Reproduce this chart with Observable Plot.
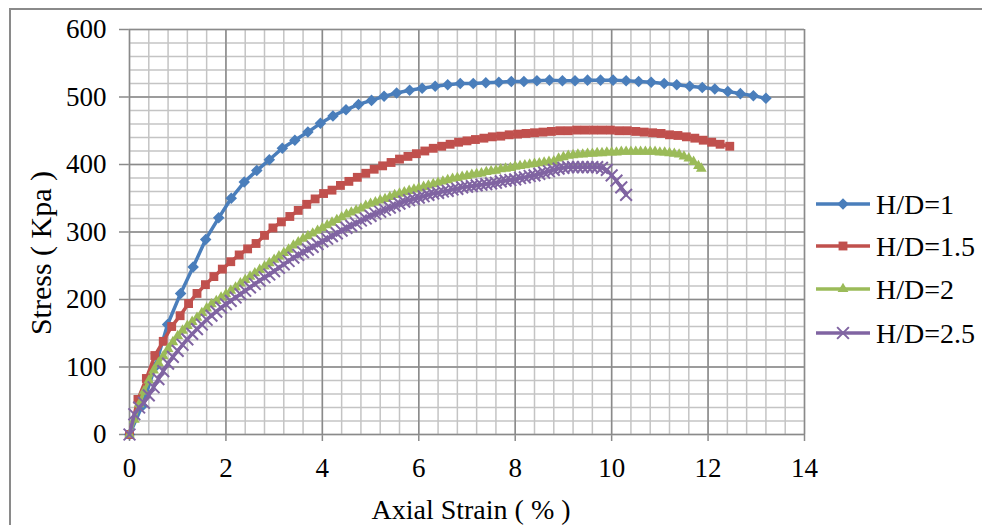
<!DOCTYPE html>
<html><head><meta charset="utf-8">
<script src="https://cdn.jsdelivr.net/npm/d3@7"></script>
<script src="https://cdn.jsdelivr.net/npm/@observablehq/plot@0.6"></script>
<style>
body{margin:0;background:#fff;}
#wrap{position:relative;width:982px;height:525px;overflow:hidden;background:#fff;font-family:"Liberation Serif","Times New Roman",serif;}
#border{position:absolute;left:9px;top:8px;width:2000px;height:2000px;border-left:2px solid #8a8a8a;border-top:2px solid #8a8a8a;}
#chart{position:absolute;left:0;top:0;}
#legend{position:absolute;left:0;top:0;}
</style></head><body>
<div id="wrap"><div id="border"></div><div id="chart"></div><svg id="legend" width="982" height="525"></svg></div>
<script>
const seriesNames = ["H/D=1", "H/D=1.5", "H/D=2", "H/D=2.5"];
const seriesColors = ["#4a7ebb", "#c0504d", "#9bbb59", "#8064a2"];
const xTicks = [0, 2, 4, 6, 8, 10, 12, 14];
const yTicks = [0, 100, 200, 300, 400, 500, 600];
const xTitle = "Axial Strain ( % )";
const yTitle = "Stress ( Kpa )";

const strainHD1 = [0,0.26,0.53,0.79,1.06,1.32,1.58,1.85,2.11,2.38,2.64,2.90,3.17,3.43,3.70,3.96,4.22,4.49,4.75,5.02,5.28,5.54,5.81,6.07,6.34,6.60,6.86,7.13,7.39,7.66,7.92,8.18,8.45,8.71,8.98,9.24,9.50,9.77,10.03,10.30,10.56,10.82,11.09,11.35,11.62,11.88,12.14,12.41,12.67,12.94,13.20];
const stressHD1 = [0,42,100,163,209,248,289,321,350,374,391,407,424,436,448,461,472,481,489,495,501,506,510,513,516,518,520,520,521,522,523,523,524,525,524,524,525,525,525,524,523,522,520,518,516,514,512,508,505,502,498];

const strainHD15 = [0,0.175,0.35,0.525,0.70,0.875,1.05,1.225,1.40,1.575,1.75,1.925,2.10,2.275,2.45,2.625,2.80,2.975,3.15,3.325,3.50,3.675,3.85,4.025,4.20,4.375,4.55,4.725,4.90,5.075,5.25,5.425,5.60,5.775,5.95,6.125,6.30,6.475,6.65,6.825,7.0,7.175,7.35,7.525,7.70,7.875,8.05,8.225,8.40,8.575,8.75,8.925,9.10,9.275,9.45,9.625,9.80,9.975,10.15,10.325,10.50,10.675,10.85,11.025,11.20,11.375,11.55,11.725,11.90,12.075,12.25,12.45];
const stressHD15 = [0,52,83,117,138,160,176,194,209,222,234,245,256,266,275,283,295,306,315,323,332,341,349,357,362,369,375,381,387,393,398,403,408,412,416,420,424,427,430,433,435,437,439,441,442,444,445,446,447,448,449,450,450,451,451,451,451,451,450,450,449,448,447,446,444,443,441,439,436,433,430,427];

const strainHD2 = [0,0.1,0.2,0.3,0.4,0.5,0.6,0.7,0.8,0.9,1.0,1.1,1.2,1.3,1.4,1.5,1.6,1.7,1.8,1.9,2.0,2.1,2.2,2.3,2.4,2.5,2.6,2.7,2.8,2.9,3.0,3.1,3.2,3.3,3.4,3.5,3.6,3.7,3.8,3.9,4.0,4.1,4.2,4.3,4.4,4.5,4.6,4.7,4.8,4.9,5.0,5.1,5.2,5.3,5.4,5.5,5.6,5.7,5.8,5.9,6.0,6.1,6.2,6.3,6.4,6.5,6.6,6.7,6.8,6.9,7.0,7.1,7.2,7.3,7.4,7.5,7.6,7.7,7.8,7.9,8.0,8.1,8.2,8.3,8.4,8.5,8.6,8.7,8.8,8.9,9.0,9.1,9.2,9.3,9.4,9.5,9.6,9.7,9.8,9.9,10.0,10.1,10.2,10.3,10.4,10.5,10.6,10.7,10.8,10.9,11.0,11.1,11.2,11.3,11.4,11.5,11.6,11.7,11.8,11.86];
const stressHD2 = [0,22,45,64,80,95,106,116,127,137,146,154,161,167,173,180,187,193,198,203,208,213,218,224,229,234,239,244,249,254,259,264,269,274,280,285,290,294,298,302,306,310,314,318,322,326,329,332,335,339,342,344,347,349,352,355,357,359,361,363,365,367,369,371,373,375,377,379,380,382,383,385,386,387,389,390,391,393,394,395,397,398,399,400,401,402,403,404,405,409,411,413,414,415,415,416,416,417,417,418,418,418,419,419,419,419,419,419,419,419,418,418,417,416,415,412,409,404,398,394];

const strainHD25 = [0,0.1,0.2,0.3,0.4,0.5,0.6,0.7,0.8,0.9,1.0,1.1,1.2,1.3,1.4,1.5,1.6,1.7,1.8,1.9,2.0,2.1,2.2,2.3,2.4,2.5,2.6,2.7,2.8,2.9,3.0,3.1,3.2,3.3,3.4,3.5,3.6,3.7,3.8,3.9,4.0,4.1,4.2,4.3,4.4,4.5,4.6,4.7,4.8,4.9,5.0,5.1,5.2,5.3,5.4,5.5,5.6,5.7,5.8,5.9,6.0,6.1,6.2,6.3,6.4,6.5,6.6,6.7,6.8,6.9,7.0,7.1,7.2,7.3,7.4,7.5,7.6,7.7,7.8,7.9,8.0,8.1,8.2,8.3,8.4,8.5,8.6,8.7,8.8,8.9,9.0,9.1,9.2,9.3,9.4,9.5,9.6,9.7,9.8,9.9,10.0,10.1,10.2,10.3];
const stressHD25 = [0,30,40,47,58,70,82,94,105,115,124,133,141,149,156,163,170,176,182,188,193,198,203,208,213,218,223,228,233,237,242,247,252,257,262,266,270,274,278,282,286,290,294,298,302,306,309,313,317,320,324,327,330,333,336,339,342,345,347,349,351,353,355,357,358,360,361,363,364,366,367,368,369,370,371,372,373,375,376,377,378,380,381,383,384,386,388,390,392,394,395,396,396,396,396,396,396,396,395,392,384,376,366,355];

const strains = [strainHD1, strainHD15, strainHD2, strainHD25];
const stresses = [stressHD1, stressHD15, stressHD2, stressHD25];
const symbols = ["diamond2", "square", "triangle", "times"];
const radii = [5.2, 5.0, 4.0, 5.4];

const xMinor = d3.range(0, 14.001, 0.4);
const yMinor = d3.range(0, 600.001, 20);

const seriesMarks = [];
seriesNames.forEach((name, k) => {
  const data = strains[k].map((x, i) => ({x, y: stresses[k][i]}));
  seriesMarks.push(Plot.line(data, {x: "x", y: "y", stroke: seriesColors[k], strokeWidth: 3.5}));
  if (symbols[k] === "times") {
    seriesMarks.push(Plot.dot(data, {x: "x", y: "y", symbol: symbols[k], r: radii[k], stroke: seriesColors[k], strokeWidth: 2, fill: "none"}));
  } else {
    seriesMarks.push(Plot.dot(data, {x: "x", y: "y", symbol: symbols[k], r: radii[k], fill: seriesColors[k], stroke: "none"}));
  }
});

const chart = Plot.plot({
  width: 982, height: 525,
  marginLeft: 129, marginRight: 178, marginTop: 29, marginBottom: 91,
  style: {fontFamily: "Liberation Serif, Times New Roman, serif", fontSize: "27px", color: "#000", background: "transparent"},
  x: {domain: [0, 14], ticks: xTicks, tickSize: 7, tickPadding: 16, tickFormat: d => String(d), label: null},
  y: {domain: [0, 600], ticks: yTicks, tickSize: 10, tickPadding: 13, tickFormat: d => String(d), label: null},
  marks: [
    Plot.ruleX(xMinor, {stroke: "#c4c4c4", strokeWidth: 1.5}),
    Plot.ruleY(yMinor, {stroke: "#c4c4c4", strokeWidth: 1.5}),
    Plot.ruleX(xTicks, {stroke: "#8a8a8a", strokeWidth: 1.5}),
    Plot.ruleY(yTicks, {stroke: "#8a8a8a", strokeWidth: 1.5}),
    ...seriesMarks
  ]
});
document.getElementById("chart").appendChild(chart);
const svg = d3.select(chart);
svg.selectAll('g[aria-label$="-axis tick"]').attr("stroke", "#8a8a8a").attr("stroke-width", 1.5);
svg.selectAll('g[aria-label$="-axis"] line, g[aria-label$="-axis"] path').attr("stroke", "#8a8a8a");

svg.append("text").attr("x", 471).attr("y", 519).attr("text-anchor", "middle")
  .attr("font-size", 28).attr("fill", "#000").text(xTitle);
svg.append("text").attr("transform", "translate(51,253) rotate(-90)").attr("text-anchor", "middle")
  .attr("font-size", 30).attr("fill", "#000").text(yTitle);

const legend = d3.select("#legend");
const legendY = [204, 246, 289, 333];
seriesNames.forEach((name, k) => {
  const g = legend.append("g");
  g.append("line").attr("x1", 816).attr("x2", 870).attr("y1", legendY[k]).attr("y2", legendY[k])
    .attr("stroke", seriesColors[k]).attr("stroke-width", 3.5);
  const symMap = {diamond2: d3.symbolDiamond2, square: d3.symbolSquare, triangle: d3.symbolTriangle, times: d3.symbolTimes};
  const sym = d3.symbol(symMap[symbols[k]], Math.PI * radii[k] * radii[k]);
  const p = g.append("path").attr("d", sym()).attr("transform", `translate(843,${legendY[k]})`);
  if (symbols[k] === "times") p.attr("fill", "none").attr("stroke", seriesColors[k]).attr("stroke-width", 2);
  else p.attr("fill", seriesColors[k]);
  g.append("text").attr("x", 876).attr("y", legendY[k]).attr("dy", "0.35em")
    .attr("font-family", "Liberation Serif, Times New Roman, serif").attr("font-size", 28).attr("fill", "#000").text(name);
});
</script>
</body></html>
